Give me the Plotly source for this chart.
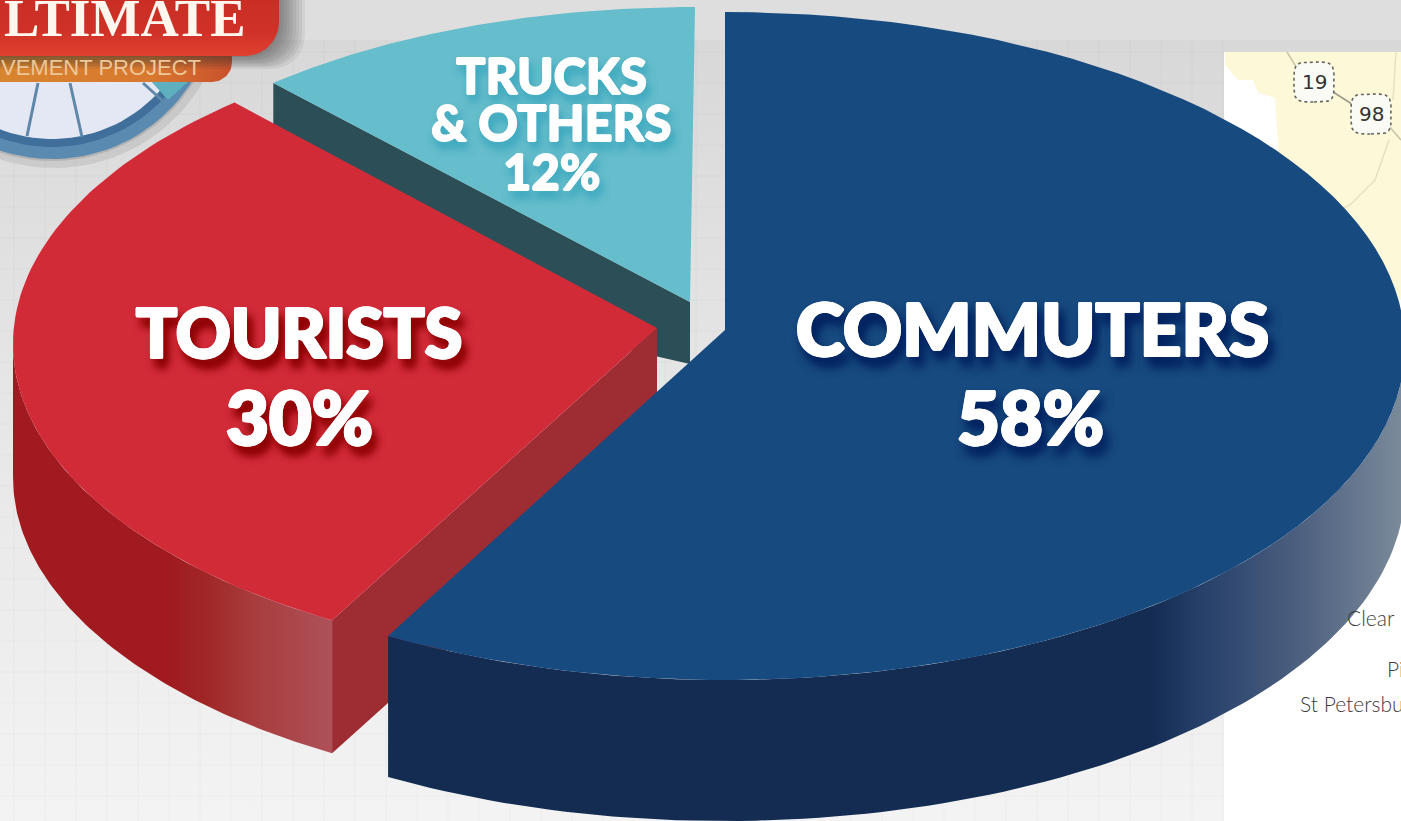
import numpy as np
import plotly.graph_objects as go

# ---- data ----
categories = ["COMMUTERS", "TOURISTS", "TRUCKS"]
shares = [58, 30, 12]
trucks_second_line = "& OTHERS"
map_labels = ["Clear", "Pi", "St Petersbu"]
shield_labels = ["19", "98"]
logo_texts = ["LTIMATE", "VEMENT PROJECT"]

# ---- styling / geometry of the exploded tilted pie ----
W, H = 1401, 821
FONT = "Lato"
style = {
    "COMMUTERS": dict(cx=725, cy=346, rx=680, ry=334, apex=(725, 330), depth=141,
                      top="#174a7e", s0=0.0, s1=0.9),
    "TOURISTS": dict(cx=657, cy=344, rx=644, ry=320, apex=(657, 328), depth=133,
                     top="#d22b38", s0=1.5, s1=2.2),
    "TRUCKS": dict(cx=695, cy=287, rx=616, ry=280, apex=(690, 302), depth=62,
                   top="#66bdcb", s0=0.0, s1=0.0),
}

fig = go.Figure()


def poly(x, y, color=None, grad=None, line=None):
    kw = dict(x=list(x), y=list(y), mode="lines", fill="toself", hoverinfo="skip",
              showlegend=False, line=dict(width=0) if line is None else line)
    if grad is not None:
        kw["fillgradient"] = grad
    else:
        kw["fillcolor"] = color
    fig.add_trace(go.Scatter(**kw))


def polyline(x, y, color, width=1.0, dash="solid"):
    fig.add_trace(go.Scatter(x=list(x), y=list(y), mode="lines", hoverinfo="skip", showlegend=False,
                             line=dict(color=color, width=width, dash=dash)))


def ell(cx, cy, rx, ry, a0, a1, n=90):
    t = np.radians(np.linspace(a0, a1, n))
    return cx + rx * np.sin(t), cy - ry * np.cos(t)


def circle(cx, cy, r, color):
    x, y = ell(cx, cy, r, r, 0, 360, 120)
    poly(x, y, color)


def banner(right, bottom, radius, **kw):
    cx, cy = ell(right - radius, bottom - radius, radius, radius, 90, 180, 16)
    poly([0, right] + list(cx) + [0], [0, 0] + list(cy) + [bottom], **kw)


# ---- backdrop (fillgradient runs from the lower axis value, so top colour is last) ----
poly([0, W, W, 0], [0, 0, 42, 42], "#dedede")
poly([0, W, W, 0], [40, 40, H, H], grad=dict(type="vertical", colorscale=[
    [0, "#f3f3f3"], [0.55, "#e6e6e6"], [1, "#d8d8d8"]]))
gx, gy = [], []
for v in range(14, 1224, 31):
    gx += [v, v, None]
    gy += [40, H, None]
for v in range(52, H, 31):
    gx += [0, 1224, None]
    gy += [v, v, None]
polyline(gx, gy, "rgba(0,0,0,0.014)", 1.5)

# ---- map fragment ----
poly([1224, W, W, 1224], [52, 52, H, H], "#ffffff")
poly([1225, W, W, 1278, 1278, 1275, 1258, 1253, 1238, 1225],
     [52, 52, 300, 300, 143, 98, 93, 80, 80, 65], "#fdf8d8")
polyline([1287, 1298], [52, 70], "#c8c4a8", 1.5)
polyline([1330, 1355], [90, 106], "#9a9a88", 1.5)
polyline([1388, 1401], [125, 140], "#c8c4a8", 1.5)
polyline([1389, 1375, 1350, 1335], [140, 180, 205, 212], "#e6e2c0", 1.5)
polyline([1396, 1393], [52, 100], "#e6e2c0", 1.5)
shield_pos = [(1314, 82), (1371, 114)]
for (sx, sy) in shield_pos:
    t = np.radians(np.linspace(0, 360, 60))
    e = 0.45
    px = sx + 20 * np.sign(np.sin(t)) * np.abs(np.sin(t)) ** e
    py = sy + 20 * np.sign(np.cos(t)) * np.abs(np.cos(t)) ** e
    poly(px, py, "#fbfbf5", line=dict(color="#66665e", width=1.6, dash="dot"))

# ---- logo fragment ----
circle(54, -4, 172, "rgba(120,120,120,0.18)")
circle(52, -6, 167, "rgba(110,110,110,0.25)")
circle(52, -6, 165, "#5a8ab0")
circle(52, -6, 153, "#3f6f9a")
circle(52, -6, 145, "#e4e8f4")
polyline([38, 27], [83, 136], "#5f88a8", 3)
polyline([70, 82], [83, 137], "#5f88a8", 3)
polyline([143, 165], [83, 103], "#5f88a8", 3)
poly([150, 190, 168], [80, 80, 100], "#5fb0bf")
banner(232, 82, 20, grad=dict(type="horizontal", colorscale=[
    [0, "#d8852f"], [0.65, "#d8782f"], [1, "#c9502c"]]))
for grow in range(26, 0, -3):
    banner(279 + grow, 56 + grow // 2, 34, color="rgba(50,50,50,0.075)")
banner(279, 56, 34, grad=dict(type="vertical", colorscale=[
    [0, "#e0402f"], [0.45, "#cf3128"], [1, "#c92e25"]]))

# ---- the pie, built from the shares ----
edges = np.cumsum([0] + shares) * 3.6
angles = {c: (edges[i] + style[c]["s0"], edges[i + 1] + style[c]["s1"]) for i, c in enumerate(categories)}

# trucks: only its cut face shows, the rest hides behind the tourists slice
s = style["TRUCKS"]
a0, a1 = angles["TRUCKS"]
tx, ty = ell(s["cx"], s["cy"], s["rx"], s["ry"], a0, a1)
ax, ay = s["apex"]
poly([tx[0], ax, ax, tx[0]], [ty[0], ay, ay + s["depth"], ty[0] + s["depth"] * 3], "#2c4f57")
poly([ax] + list(tx), [ay] + list(ty), s["top"])

# tourists
s = style["TOURISTS"]
a0, a1 = angles["TOURISTS"]
ax, ay = s["apex"]
d = s["depth"]
tx, ty = ell(s["cx"], s["cy"], s["rx"], s["ry"], a0, a1)
wx, wy = ell(s["cx"], s["cy"], s["rx"], s["ry"], a0, 270)
poly([ax, wx[0], wx[0], ax], [ay, wy[0], wy[0] + d, ay + d], "#9e2d33")
poly(list(wx) + list(wx[::-1]), list(wy) + list(wy[::-1] + d), grad=dict(type="horizontal", colorscale=[
    [0, "#a01a20"], [0.49, "#a01a20"], [0.6, "#a02626"], [0.75, "#a83c3d"], [0.97, "#ad4f56"], [1, "#b05058"]]))
poly([ax] + list(tx), [ay] + list(ty), s["top"])

# commuters
s = style["COMMUTERS"]
a0, a1 = angles["COMMUTERS"]
ax, ay = s["apex"]
d = s["depth"]
tx, ty = ell(s["cx"], s["cy"], s["rx"], s["ry"], a0, a1)
wx, wy = ell(s["cx"], s["cy"], s["rx"], s["ry"], 90, a1)
poly(list(wx) + list(wx[::-1]), list(wy) + list(wy[::-1] + d), grad=dict(type="horizontal", colorscale=[
    [0, "#142c52"], [0.75, "#142c52"], [0.80, "#26406a"], [0.9, "#4e6180"], [1, "#7c8c9c"]]))
poly([ax] + list(tx), [ay] + list(ty), s["top"])

# ---- text ----
ann = []
THICK = ",".join(f"{a}px {b}px 0 #fff" for a, b in [(1.4, 0), (-1.4, 0), (0, 1.2), (0, -1.2), (1, 1), (-1, -1), (1, -1), (-1, 1)])


def label(x, y, text, size, color="#ffffff", shadow="none", family=FONT, weight=900, anchor="center"):
    ann.append(dict(x=x, y=y, xref="x", yref="y", text=text, showarrow=False, xanchor=anchor, yanchor="middle",
                    font=dict(family=family, size=size, color=color, weight=weight, shadow=shadow)))


blue = THICK + ",5px 9px 11px #00205f,5px 9px 11px #00205f"
red = THICK + ",5px 9px 10px #8a0000,5px 9px 10px #8a0000"
thin = ",".join(f"{a}px {b}px 0 #fff" for a, b in [(0.8, 0), (-0.8, 0), (0, 0.8), (0, -0.8)])
teal = thin + ",3px 7px 9px #3fa9bf,3px 7px 9px #3fa9bf"

label(1032, 328, categories[0], 73, shadow=blue)
label(1030, 416, f"{shares[0]}%", 74, shadow=blue)
label(299, 331, categories[1], 68, shadow=red)
label(299, 416, f"{shares[1]}%", 74, shadow=red)
label(551, 75, categories[2], 49, shadow=teal)
label(551, 122, trucks_second_line, 49, shadow=teal)
label(551, 171, f"{shares[2]}%", 49, shadow=teal)

label(1345, 617, map_labels[0], 21, color="#3c3c3c", family="Lato", weight=300, anchor="left")
label(1385, 668, map_labels[1], 21, color="#3c3c3c", family="Lato", weight=300, anchor="left")
label(1298, 703, map_labels[2], 21, color="#3c3c3c", family="Lato", weight=300, anchor="left")
for (sx, sy), lab in zip(shield_pos, shield_labels):
    label(sx, sy, lab, 20, color="#333333", family="DejaVu Sans", weight=400)

label(248, 18, logo_texts[0], 53, color="#fff6ee", family="Liberation Serif", weight=700, anchor="right")
label(203, 67, logo_texts[1], 22, color="#edc79a", family="Liberation Sans", weight=400, anchor="right")

fig.update_layout(
    width=W, height=H, margin=dict(l=0, r=0, t=0, b=0), autosize=False,
    paper_bgcolor="#eeeeee", plot_bgcolor="#eeeeee", showlegend=False, annotations=ann,
    xaxis=dict(range=[0, W], visible=False, fixedrange=True),
    yaxis=dict(range=[H, 0], visible=False, fixedrange=True),
)
fig.write_html("out.html", config=dict(displayModeBar=False),
               post_script="document.body.style.margin='0';document.body.style.overflow='hidden';")
